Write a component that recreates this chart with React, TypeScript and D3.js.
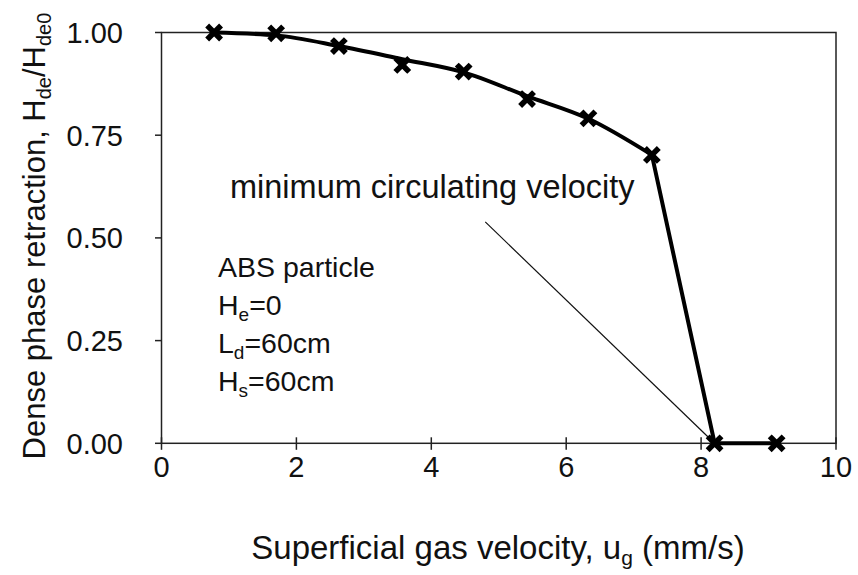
import React from "react";
import * as d3 from "d3";

const pointX = [0.78, 1.7, 2.63, 3.57, 4.48, 5.42, 6.33, 7.27, 8.2, 9.12];
const pointY = [1.0, 0.998, 0.967, 0.921, 0.905, 0.838, 0.791, 0.702, 0.0, 0.0];

const fitX = [0.78, 1.7, 2.63, 3.57, 4.48, 5.42, 6.33, 7.27];
const fitY = [1.0, 0.993, 0.967, 0.935, 0.903, 0.845, 0.79, 0.702];
const dropX = [7.27, 8.2, 9.12];
const dropY = [0.702, 0.0, 0.0];

const annotX = [4.8, 8.2];
const annotY = [0.539, 0.0];

const xTicks = [0, 2, 4, 6, 8, 10];
const yTicks = [0, 0.25, 0.5, 0.75, 1.0];

const W = 858;
const H = 575;
const FONT = "'Liberation Sans', Arial, Helvetica, sans-serif";

export default function App() {
  const x = d3.scaleLinear().domain([0, 10]).range([161.5, 836]);
  const y = d3.scaleLinear().domain([0, 1]).range([443.3, 32.5]);

  const fitLine = d3
    .line<number>()
    .x((_, i) => x(fitX[i]))
    .y((_, i) => y(fitY[i]))
    .curve(d3.curveMonotoneX);
  const dropLine = d3
    .line<number>()
    .x((_, i) => x(dropX[i]))
    .y((_, i) => y(dropY[i]));
  const annotLine = d3
    .line<number>()
    .x((_, i) => x(annotX[i]))
    .y((_, i) => y(annotY[i]));

  const [x0, x1] = x.range();
  const [y0, y1] = y.range();
  const m = 5;

  return (
    <svg
      width={W}
      height={H}
      style={{ position: "absolute", left: 0, top: 0, background: "#fff" }}
      fontFamily={FONT}
    >
      <rect x={0} y={0} width={W} height={H} fill="#fff" />
      <rect x={x0} y={y1} width={x1 - x0} height={y0 - y1} fill="none" stroke="#222" strokeWidth={1.5} />
      {yTicks.map((t) => (
        <g key={"y" + t}>
          <line x1={x0 - 6.5} x2={x0} y1={y(t)} y2={y(t)} stroke="#222" strokeWidth={1.5} />
          <text x={123} y={y(t) + 10.4} textAnchor="end" fontSize={29} fill="#111">
            {t.toFixed(2)}
          </text>
        </g>
      ))}
      {xTicks.map((t) => (
        <g key={"x" + t}>
          <line x1={x(t)} x2={x(t)} y1={y0 - 6} y2={y0 + 6.5} stroke="#222" strokeWidth={1.5} />
          <text x={x(t)} y={477} textAnchor="middle" fontSize={29} fill="#111">
            {t}
          </text>
        </g>
      ))}
      <path d={annotLine(annotX) || ""} fill="none" stroke="#111" strokeWidth={1.2} />
      <path d={fitLine(fitX) || ""} fill="none" stroke="#000" strokeWidth={4} strokeLinejoin="round" />
      <path d={dropLine(dropX) || ""} fill="none" stroke="#000" strokeWidth={4} strokeLinejoin="round" />
      {pointX.map((px, i) => (
        <path
          key={"p" + i}
          d={`M${x(px) - m},${y(pointY[i]) - m}L${x(px) + m},${y(pointY[i]) + m}M${x(px) - m},${y(pointY[i]) + m}L${x(px) + m},${y(pointY[i]) - m}`}
          stroke="#000"
          strokeWidth={5.5}
          strokeLinecap="square"
        />
      ))}
      <text x={230} y={198} fontSize={32.5} fill="#111">
        minimum circulating velocity
      </text>
      <g fontSize={28.5} fill="#111">
        <text x={218} y={277}>ABS particle</text>
        <text x={218} y={315}>
          H<tspan fontSize={19} dy={6}>e</tspan>
          <tspan dy={-6}>=0</tspan>
        </text>
        <text x={218} y={353}>
          L<tspan fontSize={19} dy={6}>d</tspan>
          <tspan dy={-6}>=60cm</tspan>
        </text>
        <text x={218} y={391}>
          H<tspan fontSize={19} dy={6}>s</tspan>
          <tspan dy={-6}>=60cm</tspan>
        </text>
      </g>
      <text x={498} y={559} textAnchor="middle" fontSize={33} fill="#111">
        Superficial gas velocity, u<tspan fontSize={21} dy={6}>g</tspan>
        <tspan dy={-6}> (mm/s)</tspan>
      </text>
      <text
        transform={`translate(45,236) rotate(-90)`}
        textAnchor="middle"
        fontSize={31}
        fill="#111"
      >
        Dense phase retraction, H<tspan fontSize={20} dy={6}>de</tspan>
        <tspan dy={-6}>/H</tspan>
        <tspan fontSize={20} dy={6}>de0</tspan>
      </text>
    </svg>
  );
}
